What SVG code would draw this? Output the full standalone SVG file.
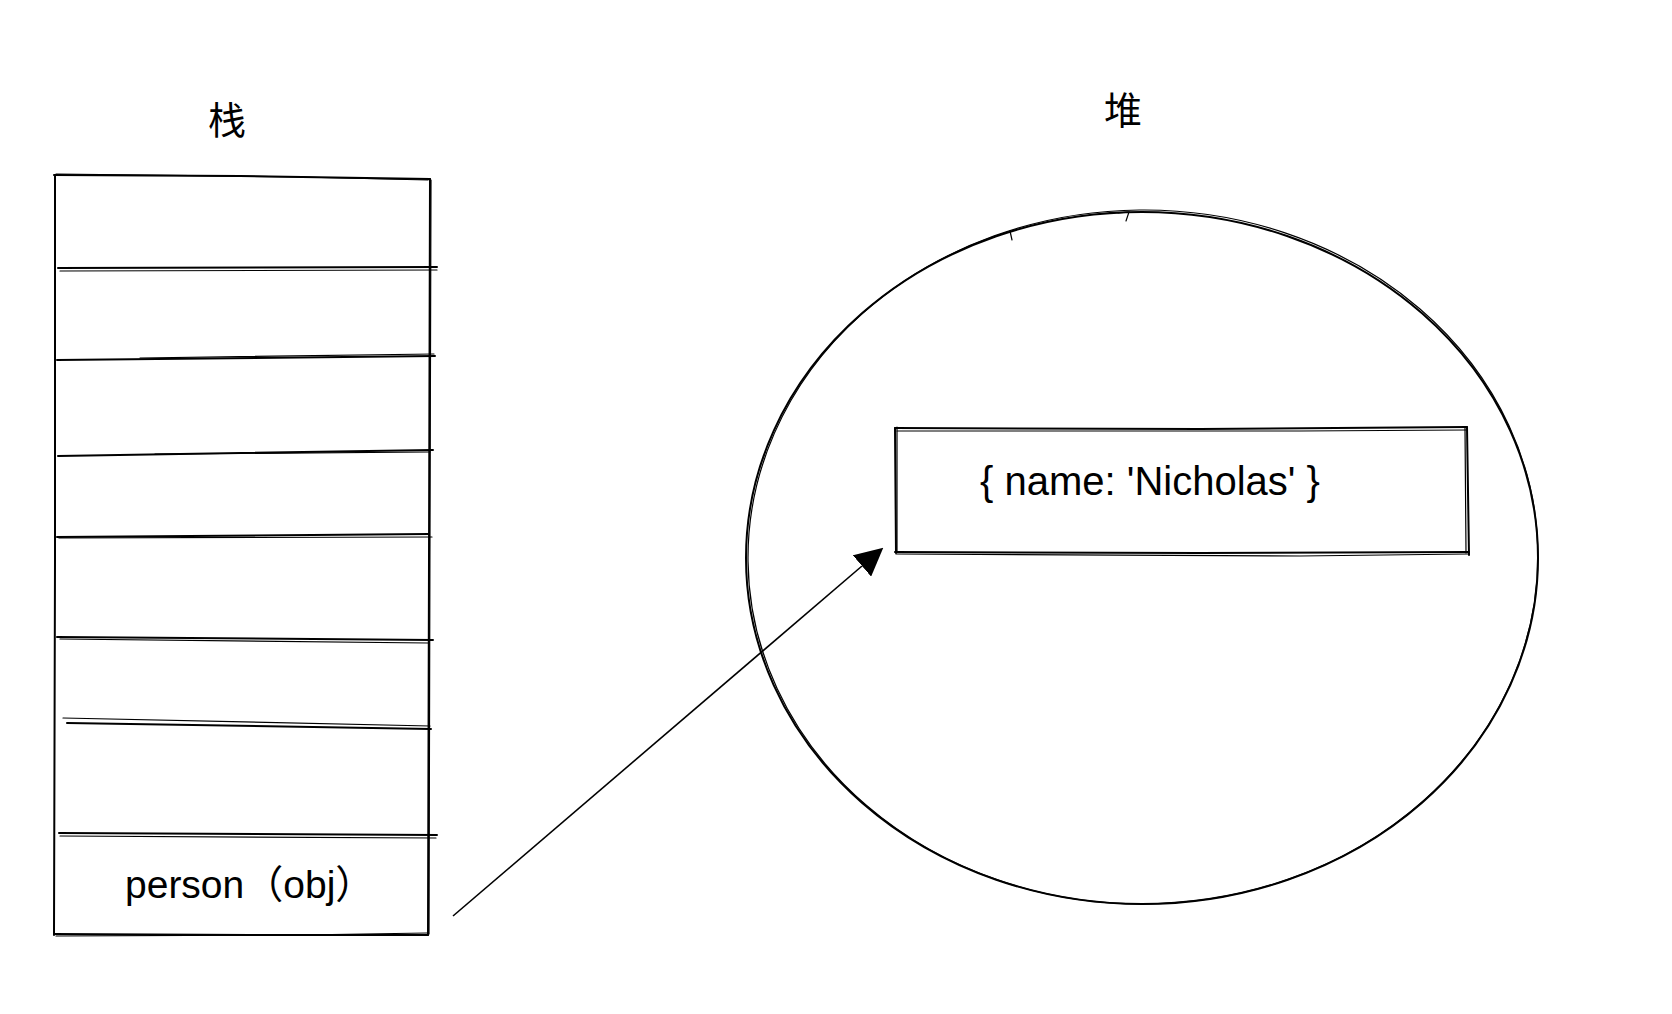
<svg xmlns="http://www.w3.org/2000/svg" width="1672" height="1014" viewBox="0 0 1672 1014">
  <style>
    .txt { font-family: "Liberation Sans", "Noto Sans CJK SC", sans-serif; fill: #000; }
    .title { font-size: 38px; text-anchor: middle; }
    .label { font-size: 39px; }
    .s { fill: none; stroke: #000; stroke-width: 2; stroke-linecap: round; stroke-linejoin: round; }
    .t { fill: none; stroke: #000; stroke-width: 1.2; stroke-linecap: round; }
    .conn { fill: none; stroke: #000; stroke-width: 1.6; }
  </style>
  <defs>
    <marker id="arrowhead" viewBox="0 0 28 28" refX="0" refY="14" markerWidth="28" markerHeight="28" markerUnits="userSpaceOnUse" orient="auto">
      <path d="M0,0 L28,14 L0,28 Z" fill="#000"/>
    </marker>
  </defs>
  <rect x="0" y="0" width="1672" height="1014" fill="#fff"/>

  <g id="stack-title">
    <text class="txt title" x="227" y="134">栈</text>
  </g>

  <g id="heap-title">
    <text class="txt title" x="1123" y="124">堆</text>
  </g>

  <g id="stack">
    <path class="s" d="M54,175 L240,176 L430,179"/>
    <path class="t" d="M56,174 L300,177 L428,180"/>
    <path class="s" d="M55,175 L55,560 L54,935"/>
    <path class="s" d="M430,179 L429,560 L428,935"/>
    <path class="t" d="M431,180 L430,520 L429,934"/>
    <path class="s" d="M54,934 L250,935 L428,935"/>
    <path class="t" d="M56,936 L300,935 L427,933"/>
    <path class="s" d="M58,268 L437,267"/>
    <path class="t" d="M60,271 L437,270"/>
    <path class="s" d="M57,360 L435,356"/>
    <path class="t" d="M140,358 L434,354"/>
    <path class="s" d="M58,456 L433,450"/>
    <path class="t" d="M155,454 L430,452"/>
    <path class="s" d="M57,537 L429,534"/>
    <path class="t" d="M59,538 L432,537"/>
    <path class="s" d="M57,637 L433,640"/>
    <path class="t" d="M60,639 L428,643"/>
    <path class="s" d="M67,723 L431,729"/>
    <path class="t" d="M63,718 L430,726"/>
    <path class="s" d="M59,833 L437,835"/>
    <path class="t" d="M60,836 L436,838"/>
  </g>

  <g id="person-cell">
    <text class="txt label" x="125" y="898">person（obj）</text>
  </g>

  <g id="heap">
    <ellipse class="s" cx="1142" cy="558" rx="396" ry="346"/>
    <ellipse class="t" cx="1143" cy="557" rx="395" ry="347" transform="rotate(-0.6 1143 557)"/>
    <path class="t" d="M1010,231 L1012,240"/>
    <path class="t" d="M1118,213 L1129,212 L1126,221"/>
  </g>

  <g id="object">
    <path class="s" d="M895,428 L1200,429 L1467,427"/>
    <path class="t" d="M897,431 L1300,431 L1466,430"/>
    <path class="s" d="M895,552 L1200,553 L1469,552"/>
    <path class="t" d="M896,554 L1300,556 L1468,554"/>
    <path class="s" d="M895,428 L896,553"/>
    <path class="t" d="M897,427 L897,552"/>
    <path class="s" d="M1467,427 L1469,555"/>
    <path class="t" d="M1465,428 L1466,553"/>
    <text class="txt" x="980" y="495" font-size="40">{ name: 'Nicholas' }</text>
  </g>

  <g id="connectors">
    <path class="conn" d="M453,916 L862,566" marker-end="url(#arrowhead)"/>
  </g>
</svg>
